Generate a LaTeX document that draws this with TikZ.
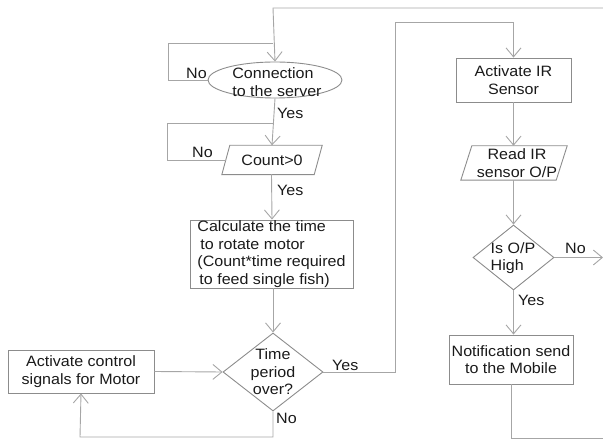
\documentclass[tikz,border=0pt]{standalone}
\usepackage{fontspec}
\setmainfont{Liberation Sans}[FakeStretch=1.07]
\usetikzlibrary{arrows.meta,shapes.geometric}
\definecolor{ln}{HTML}{A6A6A6}
\definecolor{bd}{HTML}{8C8C8C}
\definecolor{tx}{HTML}{1A1A1A}
\begin{document}
\begin{tikzpicture}[x=1pt,y=-1pt,
  font=\fontsize{15}{17.5}\selectfont, text=tx,
  line/.style={draw=ln, line width=0.9pt},
  arr/.style={line, -{Straight Barb[length=9pt,width=15pt]}},
  box/.style={draw=bd, line width=0.9pt, rectangle, inner sep=0pt, align=center},
  shp/.style={draw=bd, line width=0.9pt, inner sep=0pt},
  txt/.style={inner sep=0pt, align=center},
  lbl/.style={inner sep=0pt, anchor=west}]
\useasboundingbox (0,0) rectangle (603,441);

% ---- left column ----
\node[shp, ellipse, minimum width=134, minimum height=36] (conn) at (275,80) {};
\node[txt, align=left] (connt) at (277,82) {Connection\\to the server};

\node[inner sep=0pt, minimum width=92, minimum height=29] (count) at (272,160) {};
\draw[shp] ([xshift=-4pt]count.south west) -- ([xshift=4pt]count.north west)
  -- ([xshift=4pt]count.north east) -- ([xshift=-4pt]count.south east) -- cycle;
\node[txt] (countt) at (272,160) {Count>0};

\node[box, minimum width=163, minimum height=68, align=left] (calc) at (271.5,254)
  {Calculate the time\\\hspace{3pt}to rotate motor\\(Count*time required\\\hspace{2pt}to feed single fish)};

\node[shp, diamond, minimum width=100, minimum height=78] (tpo) at (273,372) {};
\node[txt] (tpot) at (273,372) {Time\\period\\over?};

\node[box, minimum width=146, minimum height=43] (act) at (81,371.5)
  {Activate control\\signals for Motor};

% ---- right column ----
\node[box, minimum width=115, minimum height=44] (ir) at (513.5,80) {Activate IR\\Sensor};

\node[inner sep=0pt, minimum width=95, minimum height=34] (read) at (514,163) {};
\draw[shp] ([xshift=-5.5pt]read.south west) -- ([xshift=5.5pt]read.north west)
  -- ([xshift=5.5pt]read.north east) -- ([xshift=-5.5pt]read.south east) -- cycle;
\node[txt] (readt) at (517,163) {Read IR\\sensor O/P};

\node[shp, diamond, minimum width=81, minimum height=65] (isop) at (513.5,257.5) {};
\node[txt, align=left] (isopt) at (513,258) {Is O/P\\High};

\node[box, minimum width=124, minimum height=49] (notif) at (511,359.5)
  {Notification send\\to the Mobile};

% ---- coordinates ----
\coordinate (rtop) at (603,8);
\coordinate (ltop) at (273,8);
\coordinate (l1a) at (168,80);
\coordinate (l1b) at (168,43);
\coordinate (l1c) at (273,43);
\coordinate (l2a) at (167,160);
\coordinate (l2b) at (167,123);
\coordinate (l2c) at (273,123);
\coordinate (nb1) at (273,437);
\coordinate (nb2) at (80,437);
\coordinate (y1) at (395,372);
\coordinate (y2) at (395,22);
\coordinate (y3) at (513.5,22);
\coordinate (nr) at (603,257.5);
\coordinate (b1) at (511,438);
\coordinate (b2) at (603,438);

% ---- connectors ----
\draw[arr] (rtop) -- (ltop) -- (conn.north);
\draw[line] (conn.west) -- (l1a) -- (l1b) -- (l1c);
\draw[arr] (conn.south) -- (count.north);
\draw[line] (count.west) -- (l2a) -- (l2b) -- (l2c);
\draw[arr] (count.south) -- (calc.south |- count.south) -- (calc.north -| count.south);
\draw[arr] (calc.south -| tpo.north) -- (tpo.north);
\draw[arr] (act.east) -- (tpo.west);
\draw[arr] (tpo.south) -- (nb1) -- (nb2) -- (act.south);
\draw[arr] (tpo.east) -- (y1) -- (y2) -- (y3) -- (ir.north);
\draw[arr] (ir.south) -- (read.north -| ir.south);
\draw[arr] (read.south -| isop.north) -- (isop.north);
\draw[arr] (isop.east) -- (nr);
\draw[arr] (isop.south) -- (notif.north -| isop.south);
\draw[line] (notif.south) -- (b1) -- (b2);

% ---- labels ----
\node[lbl] (no1) at (186,73) {No};
\node[lbl] (yes1) at (277,113) {Yes};
\node[lbl] (no2) at (192,152) {No};
\node[lbl] (yes2) at (277,190) {Yes};
\node[lbl] (yes3) at (332,365) {Yes};
\node[lbl] (no3) at (276,418) {No};
\node[lbl] (no4) at (565,248) {No};
\node[lbl] (yes4) at (518,300) {Yes};
\end{tikzpicture}
\end{document}
